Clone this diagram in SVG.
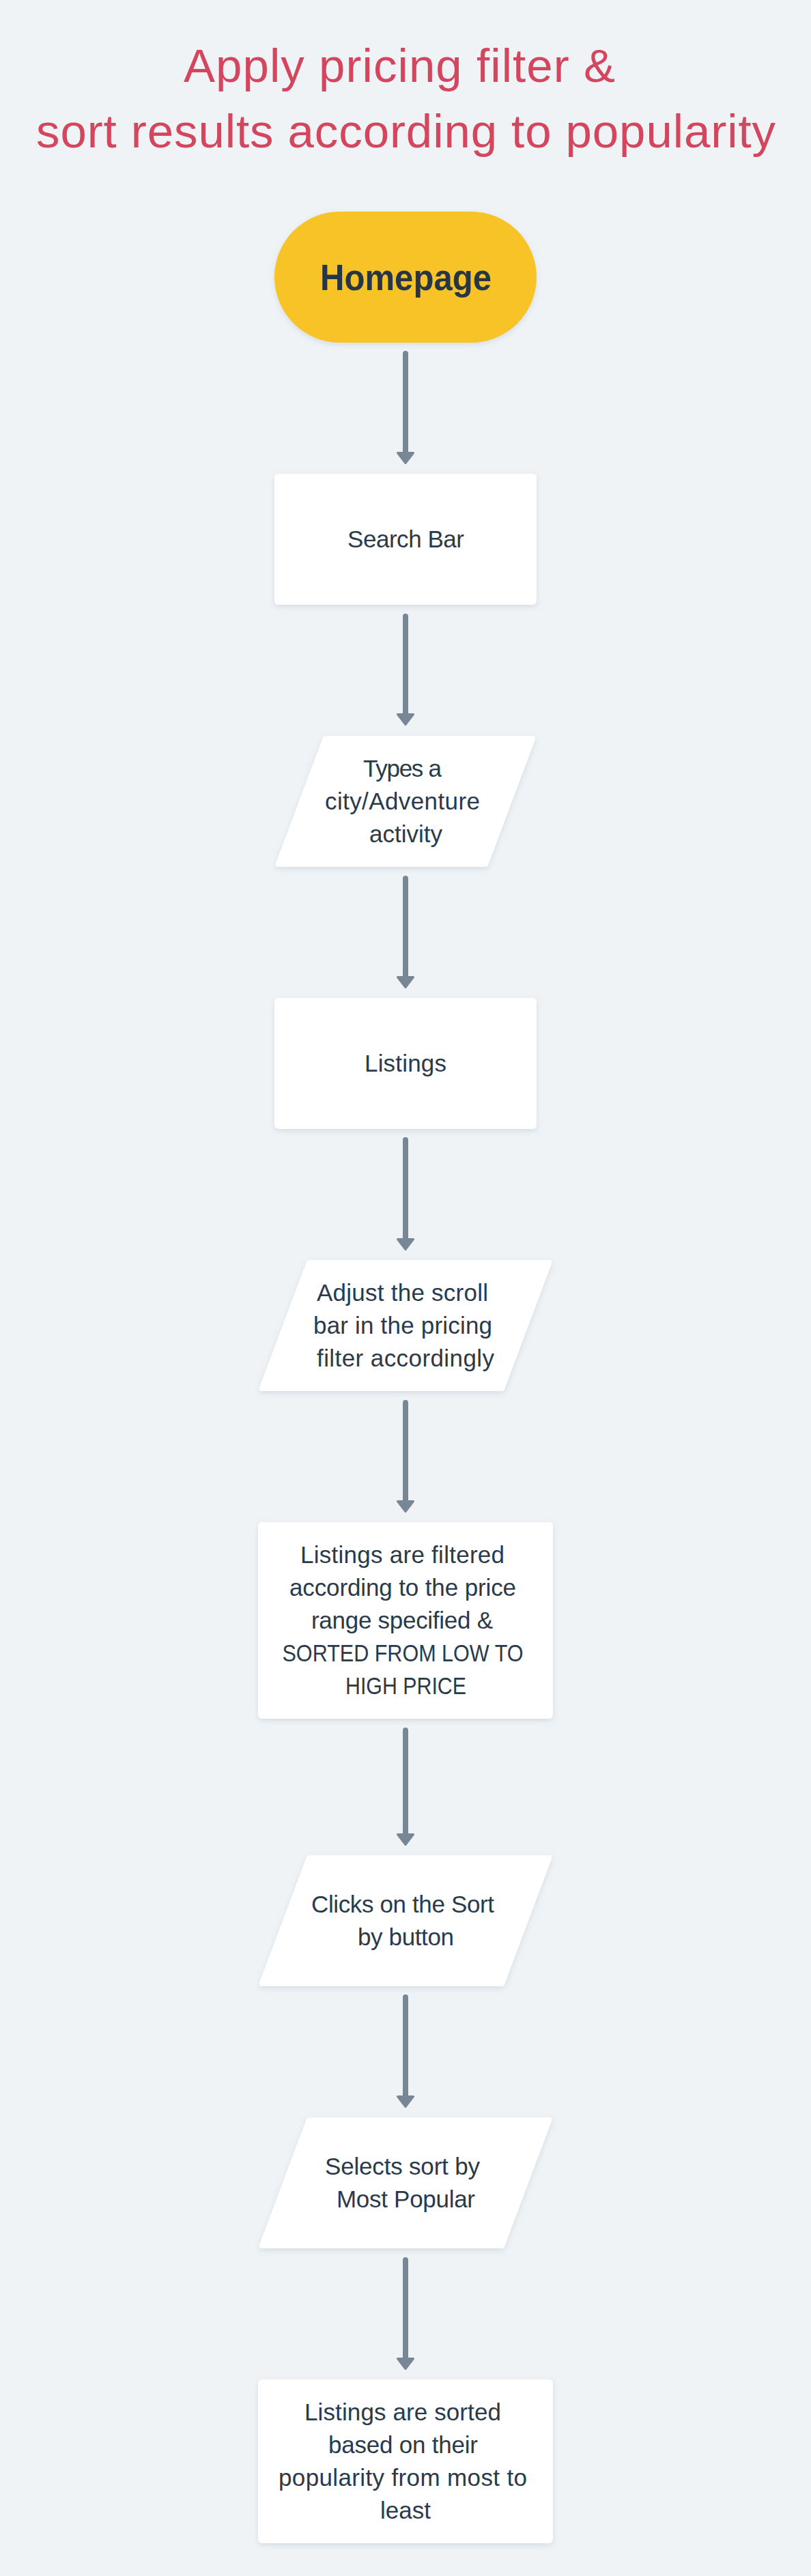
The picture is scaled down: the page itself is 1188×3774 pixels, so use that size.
<svg xmlns="http://www.w3.org/2000/svg" width="1188" height="3774" viewBox="0 0 1188 3774">
  <style>
    .bg { fill: #eff3f6; }
    .title { font-family: "Liberation Sans", Arial, sans-serif; font-size: 69px; fill: #d4465e; text-anchor: middle; }
    .start { fill: #f8c325; }
    .box { fill: #ffffff; }
    .para { fill: #ffffff; stroke: #ffffff; stroke-width: 8; stroke-linejoin: round; }
    .lbl { font-family: "Liberation Sans", Arial, sans-serif; font-size: 35px; fill: #2a3a4b; text-anchor: middle; }
    .head { font-family: "Liberation Sans", Arial, sans-serif; font-size: 53px; font-weight: bold; fill: #263646; text-anchor: middle; }
    .conn { stroke: #788795; stroke-width: 8; stroke-linecap: round; fill: none; }
  </style>
  <defs>
    <filter id="shadow" x="-10%" y="-10%" width="120%" height="130%">
      <feDropShadow dx="0" dy="3" stdDeviation="4" flood-color="#7d8fa3" flood-opacity="0.22"/>
    </filter>
    <marker id="ah" markerUnits="userSpaceOnUse" viewBox="0 0 18 26" markerWidth="18" markerHeight="26" refX="1.5" refY="13" orient="auto" overflow="visible">
      <path d="M1.5 1.5 L16.5 13 L1.5 24.5 Z" fill="#788795" stroke="#788795" stroke-width="3" stroke-linejoin="round"/>
    </marker>
  </defs>

  <rect class="bg" x="0" y="0" width="1188" height="3774"/>

  <g id="title">
    <text class="title" x="585" y="120" textLength="632">Apply pricing filter &amp;</text>
    <text class="title" x="594.5" y="216" textLength="1083">sort results according to popularity</text>
  </g>

  <g id="connectors">
    <line class="conn" x1="594" y1="518" x2="594" y2="663.5" marker-end="url(#ah)"/>
    <line class="conn" x1="594" y1="903" x2="594" y2="1046.5" marker-end="url(#ah)"/>
    <line class="conn" x1="594" y1="1287" x2="594" y2="1431.5" marker-end="url(#ah)"/>
    <line class="conn" x1="594" y1="1670" x2="594" y2="1815.5" marker-end="url(#ah)"/>
    <line class="conn" x1="594" y1="2055" x2="594" y2="2199.5" marker-end="url(#ah)"/>
    <line class="conn" x1="594" y1="2535" x2="594" y2="2687.5" marker-end="url(#ah)"/>
    <line class="conn" x1="594" y1="2926" x2="594" y2="3071.5" marker-end="url(#ah)"/>
    <line class="conn" x1="594" y1="3311" x2="594" y2="3455.5" marker-end="url(#ah)"/>
  </g>

  <g id="homepage">
    <rect class="start" x="402" y="310" width="384" height="192" rx="96" ry="96" filter="url(#shadow)"/>
    <text class="head" x="594.5" y="425" textLength="251" lengthAdjust="spacingAndGlyphs">Homepage</text>
  </g>

  <g id="search-bar">
    <rect class="box" x="402" y="694" width="384" height="192" rx="6" filter="url(#shadow)"/>
    <text class="lbl" x="594.5" y="802" textLength="171">Search Bar</text>
  </g>

  <g id="types-city">
    <polygon class="para" points="476.8,1082 780.2,1082 711.2,1266 407.8,1266" filter="url(#shadow)"/>
    <text class="lbl" x="589.5" y="1138" textLength="115">Types a</text>
    <text class="lbl" x="589.5" y="1186" textLength="227">city/Adventure</text>
    <text class="lbl" x="594.5" y="1234" textLength="107">activity</text>
  </g>

  <g id="listings">
    <rect class="box" x="402" y="1462" width="384" height="192" rx="6" filter="url(#shadow)"/>
    <text class="lbl" x="594" y="1570" textLength="120">Listings</text>
  </g>

  <g id="adjust-scroll">
    <polygon class="para" points="452.8,1850 804.2,1850 735.2,2034 383.8,2034" filter="url(#shadow)"/>
    <text class="lbl" x="589.5" y="1906" textLength="251">Adjust the scroll</text>
    <text class="lbl" x="590" y="1954" textLength="262">bar in the pricing</text>
    <text class="lbl" x="594" y="2002" textLength="260">filter accordingly</text>
  </g>

  <g id="listings-filtered">
    <rect class="box" x="378" y="2230" width="432" height="288" rx="6" filter="url(#shadow)"/>
    <text class="lbl" x="589.5" y="2290" textLength="299">Listings are filtered</text>
    <text class="lbl" x="590" y="2338" textLength="332">according to the price</text>
    <text class="lbl" x="589" y="2386" textLength="266">range specified &amp;</text>
    <text class="lbl" x="590" y="2434" textLength="353" lengthAdjust="spacingAndGlyphs">SORTED FROM LOW TO</text>
    <text class="lbl" x="594.5" y="2482" textLength="177" lengthAdjust="spacingAndGlyphs">HIGH PRICE</text>
  </g>

  <g id="clicks-sort">
    <polygon class="para" points="452.8,2722 804.2,2722 735.2,2906 383.8,2906" filter="url(#shadow)"/>
    <text class="lbl" x="590" y="2802" textLength="268">Clicks on the Sort</text>
    <text class="lbl" x="594.5" y="2850" textLength="141">by button</text>
  </g>

  <g id="selects-popular">
    <polygon class="para" points="452.8,3106 804.2,3106 735.2,3290 383.8,3290" filter="url(#shadow)"/>
    <text class="lbl" x="589.5" y="3186" textLength="227">Selects sort by</text>
    <text class="lbl" x="594.5" y="3234" textLength="203">Most Popular</text>
  </g>

  <g id="listings-sorted">
    <rect class="box" x="378" y="3486" width="432" height="240" rx="6" filter="url(#shadow)"/>
    <text class="lbl" x="590" y="3546" textLength="288">Listings are sorted</text>
    <text class="lbl" x="590.5" y="3594" textLength="219">based on their</text>
    <text class="lbl" x="590" y="3642" textLength="364">popularity from most to</text>
    <text class="lbl" x="594" y="3690" textLength="74">least</text>
  </g>
</svg>
